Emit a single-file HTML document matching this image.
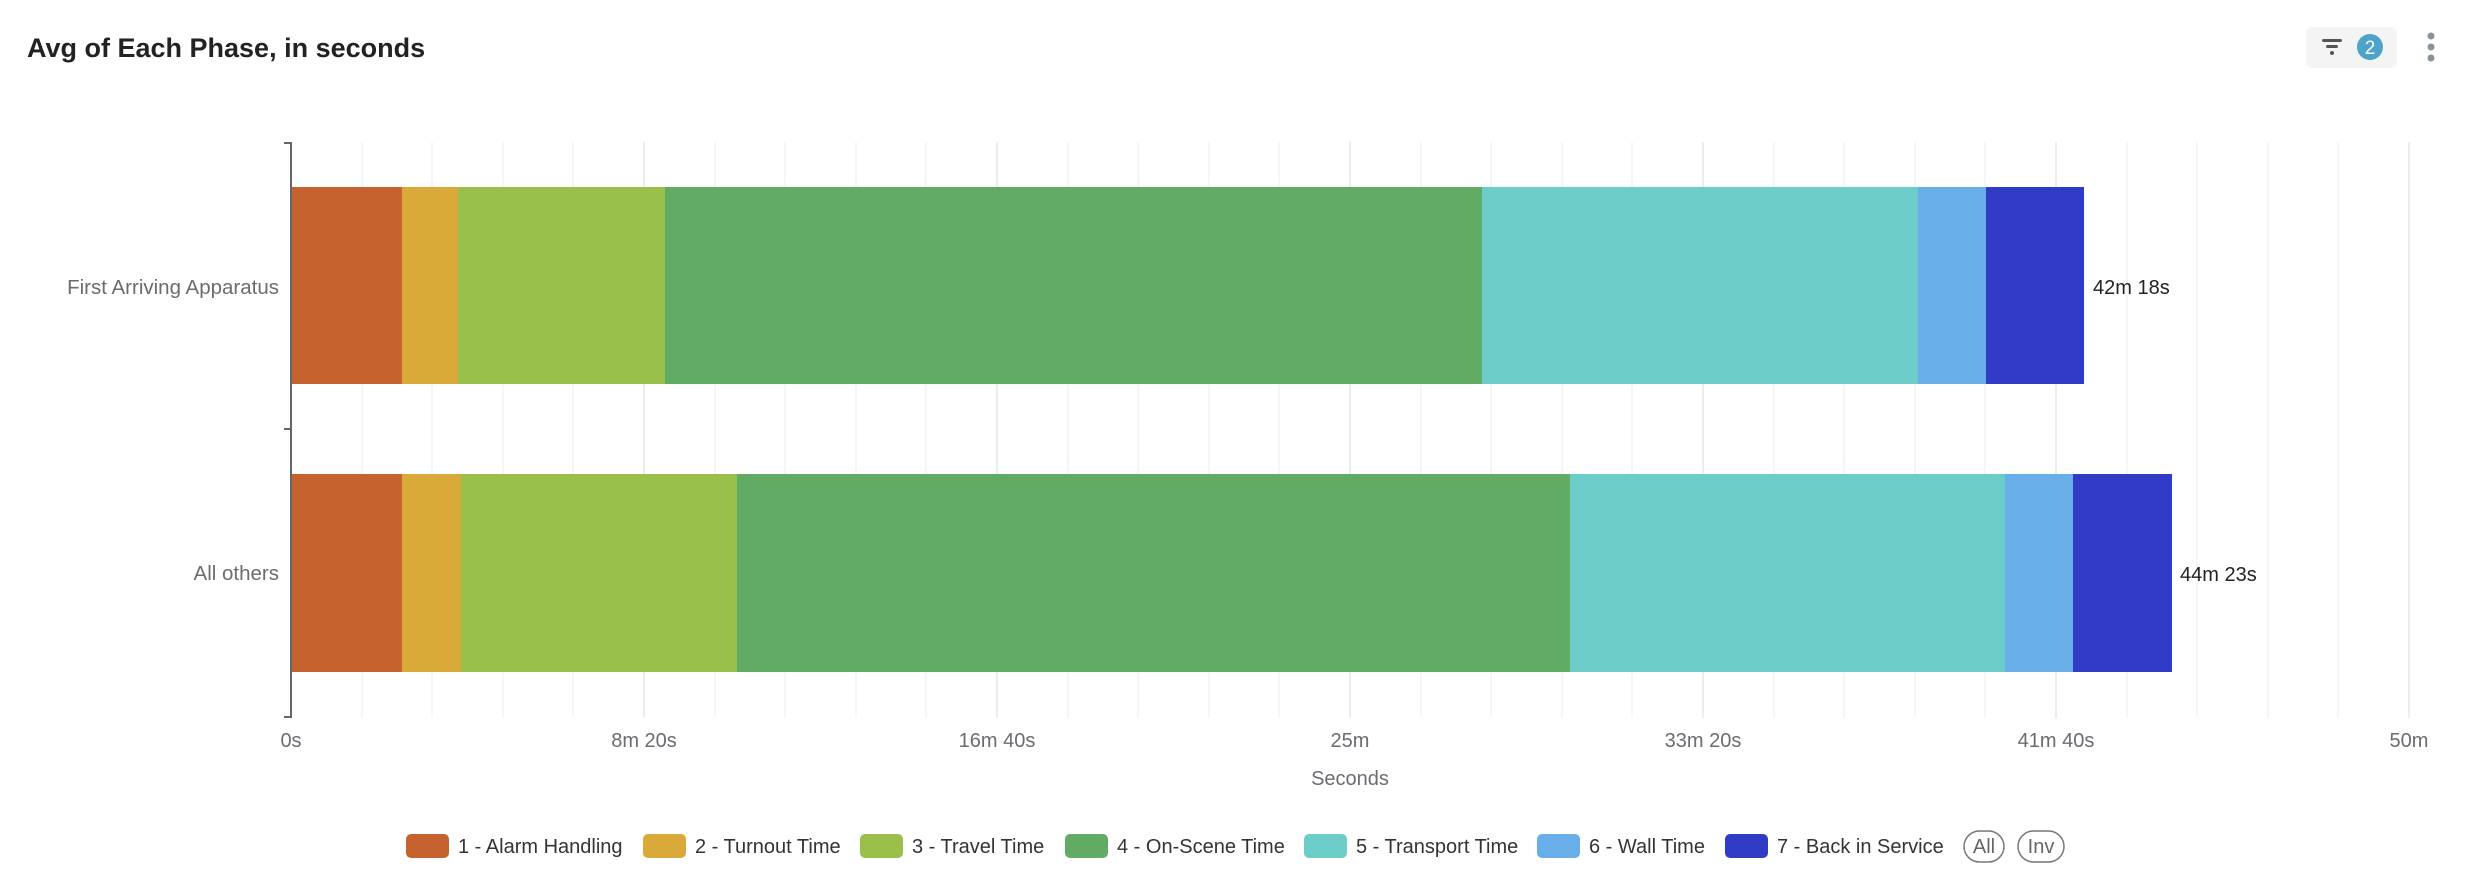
<!DOCTYPE html>
<html><head><meta charset="utf-8"><style>
html,body{margin:0;padding:0;background:#fff;width:2470px;height:892px;overflow:hidden}
svg{display:block;font-family:"Liberation Sans",sans-serif}
</style></head><body>
<svg width="2470" height="892" xmlns="http://www.w3.org/2000/svg">
<text x="27" y="57" font-size="27" font-weight="bold" fill="#222">Avg of Each Phase, in seconds</text>
<rect x="2306" y="27" width="91" height="41" rx="6" fill="#f4f4f5"/>
<rect x="2322" y="39" width="20" height="3" rx="1.5" fill="#555"/>
<rect x="2326" y="45" width="12" height="3" rx="1.5" fill="#555"/>
<circle cx="2332" cy="53" r="2" fill="#555"/>
<ellipse cx="2370" cy="47" rx="13" ry="13" fill="#4ea3c9"/>
<text x="2370" y="54" font-size="19" fill="#fff" text-anchor="middle">2</text>
<circle cx="2431" cy="36" r="3.5" fill="#8a9199"/>
<circle cx="2431" cy="47" r="3.5" fill="#8a9199"/>
<circle cx="2431" cy="58" r="3.5" fill="#8a9199"/>
<g stroke="#f3f4f9" stroke-width="1.5">
<line x1="362" y1="142" x2="362" y2="718"/><line x1="432" y1="142" x2="432" y2="718"/><line x1="503" y1="142" x2="503" y2="718"/><line x1="573" y1="142" x2="573" y2="718"/>
<line x1="715" y1="142" x2="715" y2="718"/><line x1="785" y1="142" x2="785" y2="718"/><line x1="856" y1="142" x2="856" y2="718"/><line x1="926" y1="142" x2="926" y2="718"/>
<line x1="1068" y1="142" x2="1068" y2="718"/><line x1="1138" y1="142" x2="1138" y2="718"/><line x1="1209" y1="142" x2="1209" y2="718"/><line x1="1279" y1="142" x2="1279" y2="718"/>
<line x1="1421" y1="142" x2="1421" y2="718"/><line x1="1491" y1="142" x2="1491" y2="718"/><line x1="1562" y1="142" x2="1562" y2="718"/><line x1="1632" y1="142" x2="1632" y2="718"/>
<line x1="1774" y1="142" x2="1774" y2="718"/><line x1="1844" y1="142" x2="1844" y2="718"/><line x1="1915" y1="142" x2="1915" y2="718"/><line x1="1985" y1="142" x2="1985" y2="718"/>
<line x1="2127" y1="142" x2="2127" y2="718"/><line x1="2197" y1="142" x2="2197" y2="718"/><line x1="2268" y1="142" x2="2268" y2="718"/><line x1="2338" y1="142" x2="2338" y2="718"/>
</g>
<g stroke="#e2e5ee" stroke-width="1.5">
<line x1="644" y1="142" x2="644" y2="718"/><line x1="997" y1="142" x2="997" y2="718"/><line x1="1350" y1="142" x2="1350" y2="718"/><line x1="1703" y1="142" x2="1703" y2="718"/><line x1="2056" y1="142" x2="2056" y2="718"/><line x1="2409" y1="142" x2="2409" y2="718"/>
</g>
<g>
<rect x="291" y="187" width="111" height="197" fill="#c66230"/>
<rect x="402" y="187" width="56" height="197" fill="#d9aa3a"/>
<rect x="458" y="187" width="207" height="197" fill="#9abf4b"/>
<rect x="665" y="187" width="817" height="197" fill="#62ab64"/>
<rect x="1482" y="187" width="436" height="197" fill="#6bccc8"/>
<rect x="1918" y="187" width="68" height="197" fill="#68aee8"/>
<rect x="1986" y="187" width="98" height="197" fill="#313cc6"/>
<rect x="291" y="474" width="111" height="198" fill="#c66230"/>
<rect x="402" y="474" width="59" height="198" fill="#d9aa3a"/>
<rect x="461" y="474" width="276" height="198" fill="#9abf4b"/>
<rect x="737" y="474" width="833" height="198" fill="#62ab64"/>
<rect x="1570" y="474" width="435" height="198" fill="#6bccc8"/>
<rect x="2005" y="474" width="68" height="198" fill="#68aee8"/>
<rect x="2073" y="474" width="99" height="198" fill="#313cc6"/>
</g>
<g stroke="#666" stroke-width="2">
<line x1="291" y1="142" x2="291" y2="718"/>
<line x1="284" y1="143" x2="291" y2="143"/><line x1="284" y1="429" x2="291" y2="429"/><line x1="284" y1="717" x2="291" y2="717"/>
</g>
<g font-size="20.5" fill="#6b6b72" text-anchor="end">
<text x="279" y="294">First Arriving Apparatus</text>
<text x="279" y="580">All others</text>
</g>
<g font-size="20" fill="#222">
<text x="2093" y="294">42m 18s</text>
<text x="2180" y="581">44m 23s</text>
</g>
<g font-size="20" fill="#6b6b72" text-anchor="middle">
<text x="291" y="747">0s</text><text x="644" y="747">8m 20s</text><text x="997" y="747">16m 40s</text><text x="1350" y="747">25m</text><text x="1703" y="747">33m 20s</text><text x="2056" y="747">41m 40s</text><text x="2409" y="747">50m</text>
<text x="1350" y="785">Seconds</text>
</g>
<g font-size="20" fill="#333">
<rect x="406" y="834" width="43" height="24" rx="5" fill="#c66230"/><text x="458" y="853">1 - Alarm Handling</text>
<rect x="643" y="834" width="43" height="24" rx="5" fill="#d9aa3a"/><text x="695" y="853">2 - Turnout Time</text>
<rect x="860" y="834" width="43" height="24" rx="5" fill="#9abf4b"/><text x="912" y="853">3 - Travel Time</text>
<rect x="1065" y="834" width="43" height="24" rx="5" fill="#62ab64"/><text x="1117" y="853">4 - On-Scene Time</text>
<rect x="1304" y="834" width="43" height="24" rx="5" fill="#6bccc8"/><text x="1356" y="853">5 - Transport Time</text>
<rect x="1537" y="834" width="43" height="24" rx="5" fill="#68aee8"/><text x="1589" y="853">6 - Wall Time</text>
<rect x="1725" y="834" width="43" height="24" rx="5" fill="#313cc6"/><text x="1777" y="853">7 - Back in Service</text>
<rect x="1964" y="831" width="40" height="31" rx="15.5" fill="none" stroke="#777" stroke-width="1.5"/><text x="1984" y="853" text-anchor="middle" fill="#666">All</text>
<rect x="2018" y="831" width="46" height="31" rx="15.5" fill="none" stroke="#777" stroke-width="1.5"/><text x="2041" y="853" text-anchor="middle" fill="#666">Inv</text>
</g>
</svg>
</body></html>
